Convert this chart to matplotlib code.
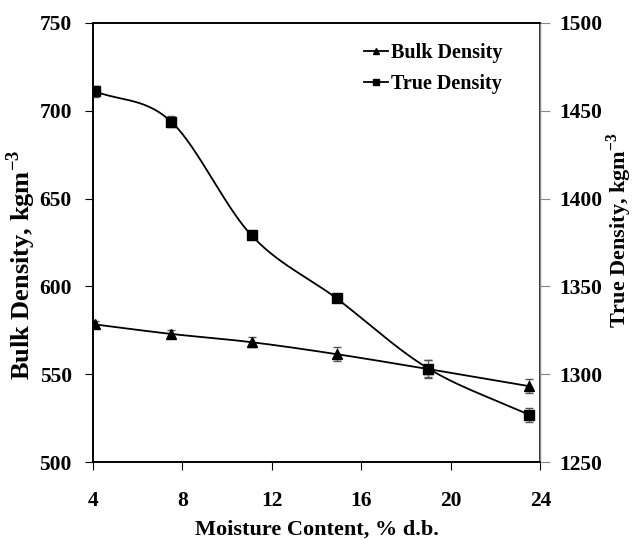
import numpy as np
import matplotlib
matplotlib.use("Agg")
import matplotlib.pyplot as plt

plt.rcParams['font.family'] = ['Liberation Serif', 'DejaVu Serif']
plt.rcParams['font.weight'] = 'bold'
plt.rcParams['mathtext.fontset'] = 'custom'
plt.rcParams['mathtext.rm'] = 'Liberation Serif:bold'
plt.rcParams['mathtext.bf'] = 'Liberation Serif:bold'

# data
moisture = [4.1, 7.5, 11.1, 14.9, 19.0, 23.5]
bulk_density = [578.4, 573.0, 568.3, 561.5, 553.0, 543.3]
bulk_err = [2.0, 2.0, 3.0, 4.0, 5.0, 4.0]
true_density = [1461.0, 1443.8, 1379.0, 1343.2, 1303.3, 1277.0]
true_err = [3.0, 3.0, 2.0, 2.0, 5.0, 4.0]


def smooth_curve(x, y, n=40):
    # bezier smoothing like excel's smoothed line
    x = np.asarray(x, float)
    y = np.asarray(y, float)
    px = np.concatenate([[2 * x[0] - x[1]], x, [2 * x[-1] - x[-2]]])
    py = np.concatenate([[2 * y[0] - y[1]], y, [2 * y[-1] - y[-2]]])
    xs, ys = [], []
    for i in range(1, len(px) - 2):
        t = np.linspace(0, 1, n)
        p0, p1, p2, p3 = [np.array([px[j], py[j]]) for j in range(i - 1, i + 3)]
        c1 = p1 + (p2 - p0) / 6
        c2 = p2 - (p3 - p1) / 6
        pts = ((1 - t)[:, None] ** 3 * p1 + 3 * ((1 - t) ** 2 * t)[:, None] * c1
               + 3 * ((1 - t) * t ** 2)[:, None] * c2 + (t ** 3)[:, None] * p2)
        xs.extend(pts[:, 0])
        ys.extend(pts[:, 1])
    return xs, ys


fig = plt.figure(figsize=(6.37, 5.4), dpi=100)
ax = fig.add_axes([0.1455, 0.1439, 0.7027, 0.8141])
ax2 = ax.twinx()

sx, sy = smooth_curve(moisture, bulk_density)
ax.plot(sx, sy, color='black', lw=1.3)
ax.errorbar(moisture, bulk_density, yerr=bulk_err, fmt='^', color='black',
            ms=6.5, ecolor='#555555', elinewidth=0.8, capsize=3)

tx, ty = smooth_curve(moisture, true_density)
ax2.plot(tx, ty, color='black', lw=1.3)
ax2.errorbar(moisture, true_density, yerr=true_err, fmt='s', color='black',
             ms=7, ecolor='#555555', elinewidth=0.8, capsize=3)

ax.set_xlim(4, 24)
ax.set_ylim(500, 750)
ax2.set_ylim(1250, 1500)
ax.set_xticks([4, 8, 12, 16, 20, 24])
ax.set_yticks([500, 550, 600, 650, 700, 750])
ax2.set_yticks([1250, 1300, 1350, 1400, 1450, 1500])

ax.tick_params(axis='x', direction='out', length=6, labelsize=15.5, pad=15)
ax.tick_params(axis='y', direction='out', length=6, labelsize=15.5, pad=9)
ax2.tick_params(axis='y', direction='out', length=7, labelsize=15.5, pad=7,
                color='#888888')
for a in (ax, ax2):
    for lab in a.get_xticklabels() + a.get_yticklabels():
        lab.set_fontweight('bold')
    for sp in a.spines.values():
        sp.set_linewidth(1.2)
ax2.spines['right'].set_color('#888888')
ax2.spines['right'].set_linewidth(1.0)

ax.set_xlabel('Moisture Content, % d.b.', fontsize=16, fontweight='bold', labelpad=6)
fig.text(0.034, 0.51, r'Bulk Density, kgm$^{\mathbf{-3}}$', rotation=90,
         ha='center', va='center', fontsize=19, fontweight='bold')
fig.text(0.972, 0.574, r'True Density, kgm$^{\mathbf{-3}}$', rotation=90,
         ha='center', va='center', fontsize=16, fontweight='bold')

h1 = ax.plot([], [], '-^', color='black', ms=5, lw=1.3)[0]
h2 = ax.plot([], [], '-s', color='black', ms=5, lw=1.3)[0]
ax.legend([h1, h2], ['Bulk Density', 'True Density'], loc='upper left',
          bbox_to_anchor=(364 / 637, 1 - 43 / 540), bbox_transform=fig.transFigure,
          frameon=False, handlelength=1.2, handletextpad=0.15, borderpad=0,
          borderaxespad=0, labelspacing=0.55, prop={'size': 14.5, 'weight': 'bold'})

fig.savefig('out.png', dpi=100)
